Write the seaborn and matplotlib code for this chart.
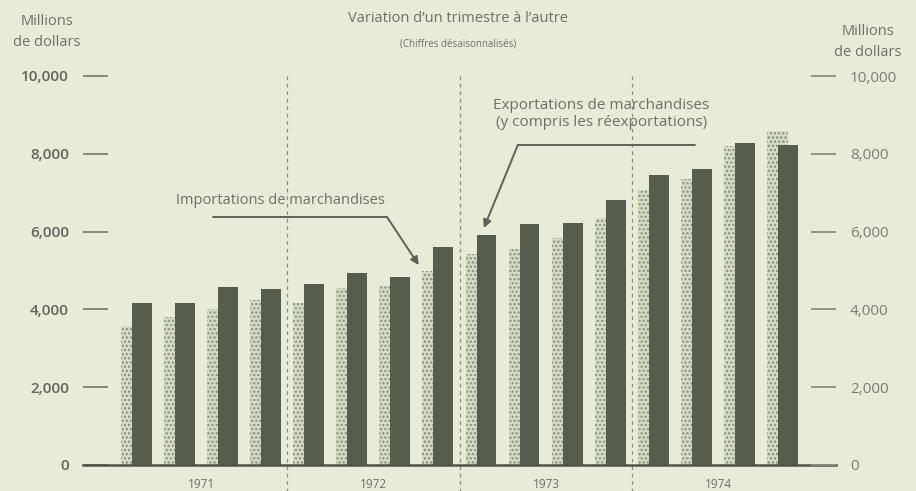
import numpy as np
import pandas as pd
import matplotlib.pyplot as plt
import seaborn as sns

# valeurs trimestrielles (millions de dollars)
years = ["1971", "1972", "1973", "1974"]
quarters = ["T1", "T2", "T3", "T4"]
imports = [3570, 3810, 4000, 4240, 4160, 4540, 4600, 4990,
           5420, 5540, 5830, 6340, 7070, 7340, 8200, 8590]
exports = [4170, 4170, 4580, 4520, 4650, 4940, 4840, 5600,
           5910, 6200, 6210, 6800, 7460, 7600, 8280, 8230]
yticks = [0, 2000, 4000, 6000, 8000, 10000]

df = pd.DataFrame({
    "annee": np.repeat(years, len(quarters)),
    "trimestre": quarters * len(years),
    "importations": imports,
    "exportations": exports,
})
df["pos"] = np.arange(len(df))
df["x_imp"] = df["pos"] - 0.12
df["x_exp"] = df["pos"] + 0.12

sns.set_theme(style="white")
plt.rcParams["font.family"] = ["Open Sans", "DejaVu Sans"]
plt.rcParams["hatch.linewidth"] = 1.1

bg = "#e8ebd8"
dark = "#585c4f"
light = "#d6dbc5"
dots = "#8a8e7b"
txt = "#6d7063"

fig = plt.figure(figsize=(9.16, 4.91), dpi=100, facecolor=bg)
ax = fig.add_axes([83 / 916, 26 / 491, (836 - 83) / 916, (465 - 76) / 491])
ax.set_facecolor(bg)

sns.barplot(data=df, x="x_imp", y="importations", native_scale=True, orient="x",
            width=0.49, color=light, saturation=1, hatch="....", edgecolor=dots,
            linewidth=0, errorbar=None, ax=ax)
sns.barplot(data=df, x="x_exp", y="exportations", native_scale=True, orient="x",
            width=0.46, color=dark, saturation=1, linewidth=0, errorbar=None, ax=ax)

ax.set_xlim(-1.24, 16.23)
ax.set_ylim(0, 10000)
ax.set_xlabel("")
ax.set_ylabel("")
for s in ["left", "right", "top"]:
    ax.spines[s].set_visible(False)
ax.spines["bottom"].set_color("#4f5346")
ax.spines["bottom"].set_linewidth(1.8)

# années sous l'axe
ax.set_xticks(np.arange(len(years)) * len(quarters) + 1.5)
ax.set_xticklabels(years, fontsize=8.5, color=txt)
ax.tick_params(axis="x", length=0, pad=9)

ax.set_yticks(yticks)
ax.set_yticklabels([f"{v:,}" for v in yticks], fontsize=11, color="#626558",
                   fontweight="semibold")
ax.tick_params(axis="y", direction="in", length=18, width=1.3, color="#7d8072", pad=10)

ax2 = ax.twinx()
ax2.set_ylim(0, 10000)
ax2.set_yticks(yticks)
ax2.set_yticklabels([f"{v:,}" for v in yticks], fontsize=11, color="#7a7d70")
ax2.tick_params(axis="y", direction="in", length=18, width=1.3, color="#8a8d7f", pad=10)
for s in ax2.spines.values():
    s.set_visible(False)

# séparateurs d'années
for xs in np.arange(1, len(years)) * len(quarters) - 0.5:
    ax.axvline(xs, ymin=-0.07, ymax=1, color="#8a8d80", lw=0.9,
               ls=(0, (3, 3)), clip_on=False, zorder=0)

# annotations
imp_i = 7
exp_i = 8
ax.text(3.35, 6800, "Importations de marchandises", ha="center", va="center",
        fontsize=10.5, color=txt)
ax.plot([1.77, 5.81], [6380, 6380], color="#5e6255", lw=1.4)
ax.annotate("", xy=(imp_i - 0.45, imports[imp_i] + 150), xytext=(5.81, 6380),
            arrowprops=dict(arrowstyle="-|>", color="#5e6255", lw=1.4,
                            shrinkA=0, shrinkB=0, mutation_scale=12))

ax.text(10.78, 9020, "Exportations de marchandises\n(y compris les réexportations)",
        ha="center", va="center", fontsize=11, color=txt, linespacing=1.25)
ax.plot([8.85, 12.96], [8230, 8230], color="#5e6255", lw=1.4)
ax.annotate("", xy=(exp_i + 0.06, exports[exp_i] + 180), xytext=(8.85, 8230),
            arrowprops=dict(arrowstyle="-|>", color="#5e6255", lw=1.4,
                            shrinkA=0, shrinkB=0, mutation_scale=12))

# titres
fig.text(458 / 916, 1 - 18 / 491, "Variation d\u2019un trimestre à l\u2019autre",
         ha="center", va="center", fontsize=10.5, color=txt)
fig.text(458 / 916, 1 - 44 / 491, "(Chiffres désaisonnalisés)",
         ha="center", va="center", fontsize=7, color=txt)
fig.text(47 / 916, 1 - 32 / 491, "Millions\nde dollars", ha="center", va="center",
         fontsize=10.5, color=txt, linespacing=1.5)
fig.text(868 / 916, 1 - 42 / 491, "Millions\nde dollars", ha="center", va="center",
         fontsize=10.5, color=txt, linespacing=1.5)

fig.savefig("out.png", dpi=100, facecolor=bg)
